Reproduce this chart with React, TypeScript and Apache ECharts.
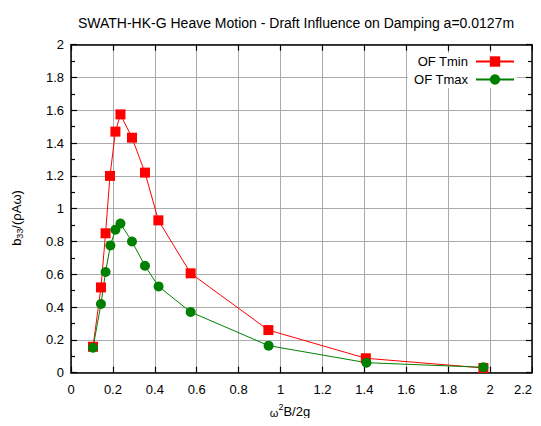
import React, { useEffect, useRef } from "react";
import * as echarts from "echarts";

const xTmin = [0.105, 0.143, 0.165, 0.186, 0.212, 0.236, 0.291, 0.353, 0.417, 0.571, 0.942, 1.407, 1.968];
const yTmin = [0.158, 0.52, 0.85, 1.2, 1.47, 1.575, 1.433, 1.22, 0.929, 0.606, 0.26, 0.088, 0.029];
const xTmax = [0.105, 0.143, 0.165, 0.188, 0.212, 0.236, 0.291, 0.353, 0.418, 0.571, 0.943, 1.41, 1.968];
const yTmax = [0.152, 0.419, 0.614, 0.776, 0.872, 0.909, 0.8, 0.652, 0.526, 0.37, 0.165, 0.061, 0.033];

const FONT = "Liberation Sans";

export default function App() {
  const ref = useRef<HTMLDivElement>(null);
  useEffect(() => {
    const chart = echarts.init(ref.current!, null, { renderer: "svg" });
    const gridColor = "#ababab";
    const axisCommon = {
      min: 0,
      axisLine: { show: true, onZero: false, lineStyle: { color: "#000", width: 1.5 } },
      axisTick: { show: true, inside: true, length: 6, lineStyle: { color: "#000", width: 1.2 } },
    };
    chart.setOption({
      animation: false,
      backgroundColor: "#fff",
      textStyle: { fontFamily: FONT },
      title: {
        text: "SWATH-HK-G Heave Motion - Draft Influence on Damping a=0.0127m",
        left: 291,
        top: 11,
        textAlign: "center",
        textStyle: { fontFamily: FONT, fontSize: 14, fontWeight: "normal", color: "#000" },
      },
      grid: { left: 71, right: 9, top: 44.7, bottom: 53.3, containLabel: false },
      legend: {
        orient: "vertical",
        right: 24,
        top: 53,
        align: "right",
        itemWidth: 38,
        itemHeight: 13,
        itemGap: 5,
        padding: [2, 2, 2, 6],
        backgroundColor: "#fff",
        textStyle: { fontFamily: FONT, fontSize: 13, color: "#000", padding: [0, 3, 0, 0] },
        data: ["OF Tmin", "OF Tmax"],
      },
      xAxis: [
        {
          ...axisCommon,
          type: "value",
          max: 2.2,
          interval: 0.2,
          position: "bottom",
          axisLabel: { color: "#000", fontSize: 13, fontFamily: FONT, margin: 10, alignMaxLabel: "right" },
          splitLine: { show: true, lineStyle: { color: gridColor, width: 1 } },
        },
        {
          ...axisCommon,
          type: "value",
          max: 2.2,
          interval: 0.2,
          position: "top",
          axisLabel: { show: false },
          splitLine: { show: false },
        },
      ],
      yAxis: [
        {
          ...axisCommon,
          type: "value",
          max: 2,
          interval: 0.2,
          position: "left",
          axisLabel: { color: "#000", fontSize: 13, fontFamily: FONT, margin: 7 },
          minorTick: { show: true, splitNumber: 2, length: 4, lineStyle: { color: "#000", width: 1.2 } },
          splitLine: { show: true, lineStyle: { color: gridColor, width: 1 } },
        },
        {
          ...axisCommon,
          type: "value",
          max: 2,
          interval: 0.2,
          position: "right",
          axisLabel: { show: false },
          minorTick: { show: true, splitNumber: 2, length: 4, lineStyle: { color: "#000", width: 1.2 } },
          splitLine: { show: false },
        },
      ],
      series: [
        {
          name: "OF Tmin",
          type: "line",
          data: xTmin.map((x, i) => [x, yTmin[i]]),
          symbol: "rect",
          symbolSize: 10,
          showAllSymbol: true,
          itemStyle: { color: "#ff0000" },
          lineStyle: { color: "#ff0000", width: 1 },
        },
        {
          name: "OF Tmax",
          type: "line",
          data: xTmax.map((x, i) => [x, yTmax[i]]),
          symbol: "circle",
          symbolSize: 10,
          showAllSymbol: true,
          itemStyle: { color: "#008000" },
          lineStyle: { color: "#008000", width: 1 },
        },
      ],
      graphic: [
        {
          type: "text",
          x: 16,
          y: 218,
          rotation: Math.PI / 2,
          style: {
            text: "{n|b}{s|33}{n|/(ρAω)}",
            align: "center",
            verticalAlign: "middle",
            rich: {
              n: { fontFamily: FONT, fontSize: 13, fill: "#000" },
              s: { fontFamily: FONT, fontSize: 9, fill: "#000", padding: [8, 0, 0, 0] },
            },
          },
        },
        {
          type: "text",
          x: 290,
          y: 411,
          style: {
            text: "{w|ω}{s|2}{n|B/2g}",
            align: "center",
            verticalAlign: "middle",
            rich: {
              n: { fontFamily: FONT, fontSize: 13, fill: "#000" },
              w: { fontFamily: FONT, fontSize: 11, fill: "#000", padding: [3, 0, 0, 0] },
              s: { fontFamily: FONT, fontSize: 9, fill: "#000", padding: [0, 0, 8, 0] },
            },
          },
        },
      ],
    });
    return () => chart.dispose();
  }, []);
  return <div ref={ref} style={{ width: 541, height: 426, margin: -8 }} />;
}
